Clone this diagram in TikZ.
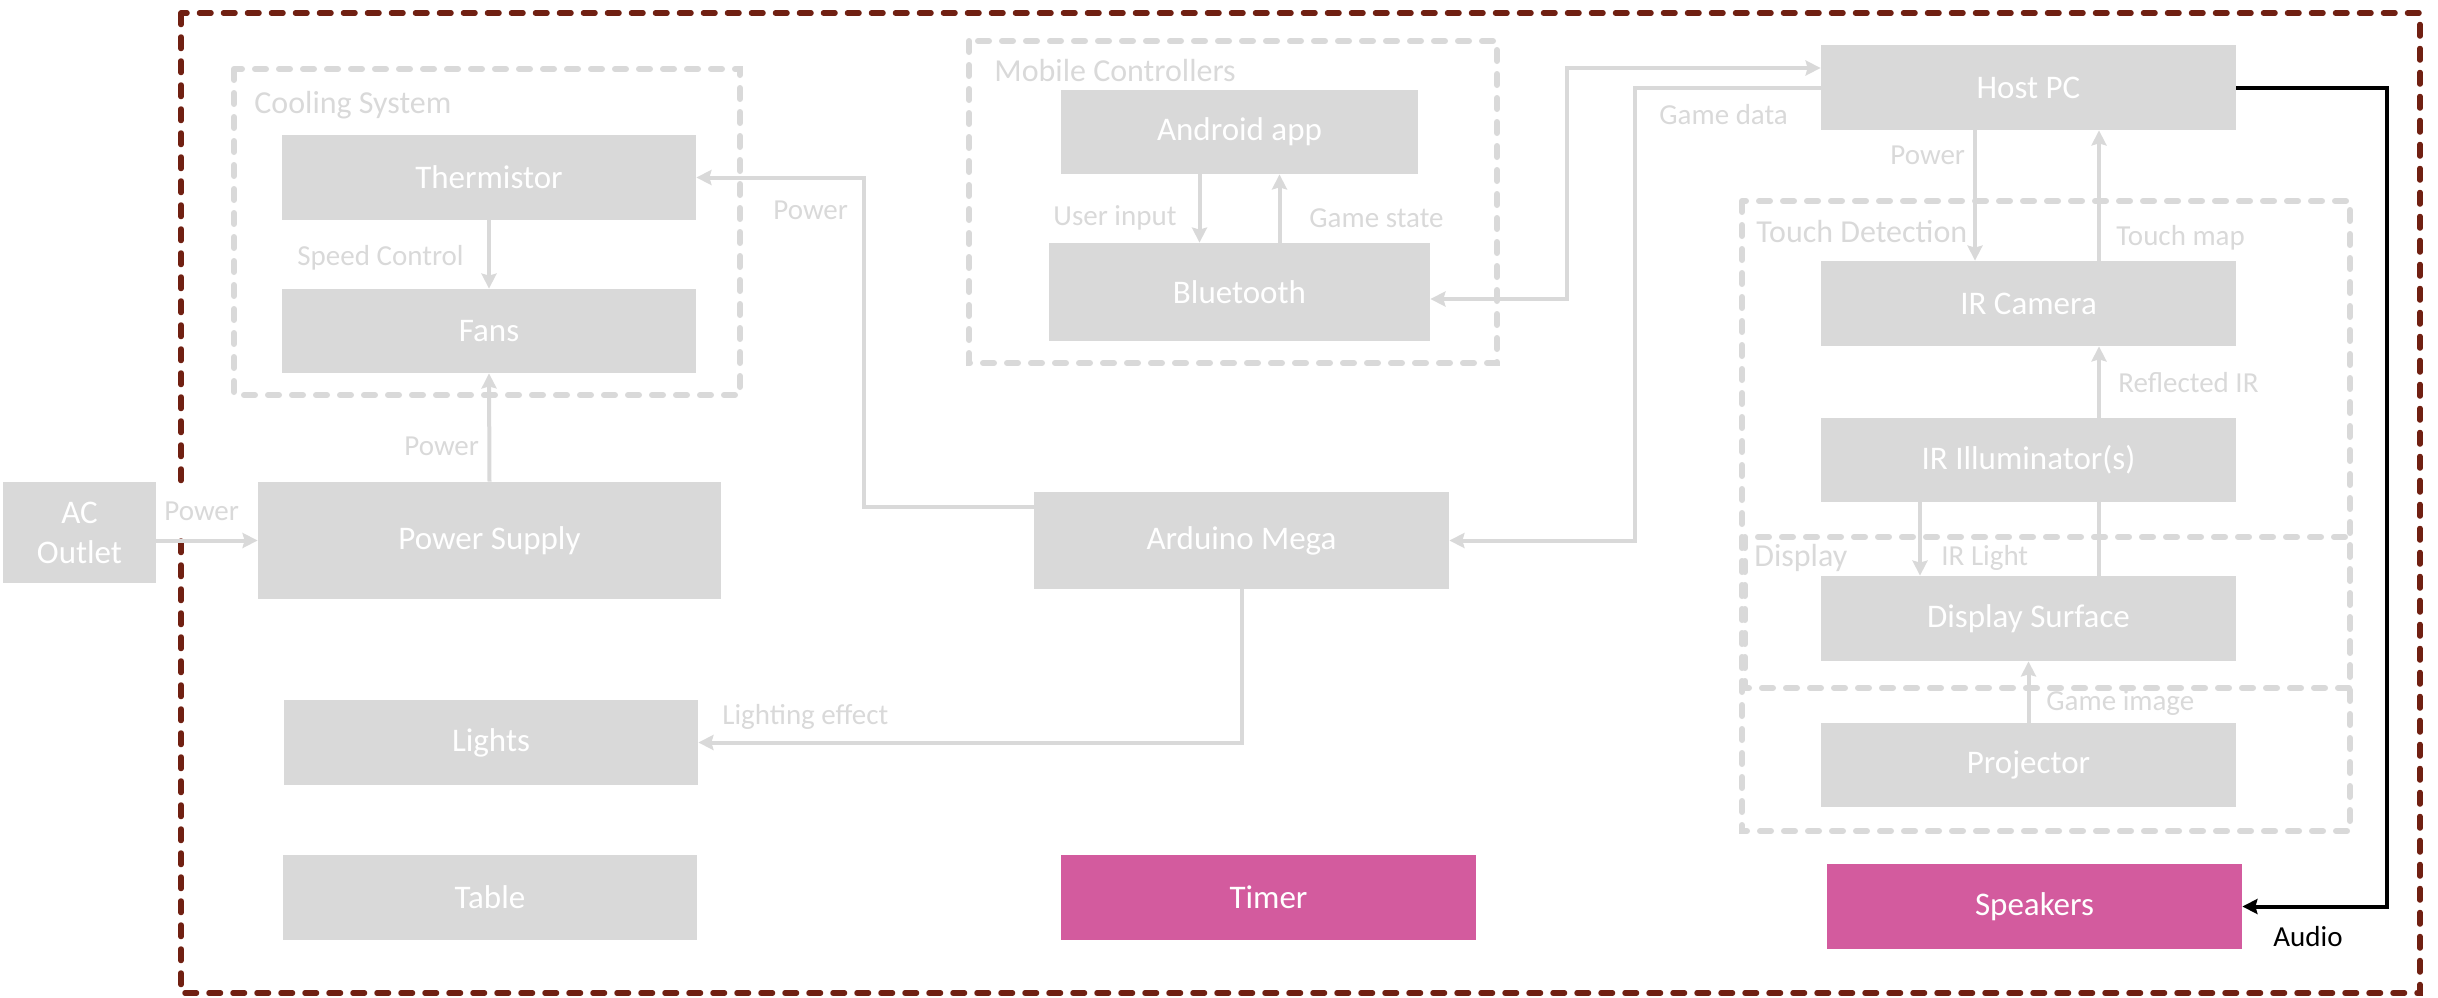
\documentclass[tikz,border=0pt]{standalone}
\usepackage{fontspec}
\setmainfont{Carlito}
\usetikzlibrary{arrows.meta,calc}
\definecolor{boxgray}{HTML}{D9D9D9}
\definecolor{framered}{HTML}{702012}
\definecolor{accent}{HTML}{D35B9E}
\begin{document}
\begin{tikzpicture}[x=0.5pt,y=-0.5pt,
  >={Stealth[length=7.5pt,width=7.5pt,inset=1pt]},
  block/.style={fill=boxgray, text=white, inner sep=0pt, align=center,
    font=\fontsize{16.5}{20}\selectfont},
  hot/.style={block, fill=accent},
  lbl/.style={text=boxgray, anchor=west, inner sep=0pt,
    font=\fontsize{14.5}{17}\selectfont},
  ttl/.style={text=boxgray, anchor=west, inner sep=0pt,
    font=\fontsize{16}{19}\selectfont},
  grp/.style={draw=boxgray, line width=3pt, dash pattern=on 5.5pt off 6.5pt, line cap=round},
  flow/.style={draw=boxgray, line width=2pt},
  audio/.style={draw=black, line width=2pt},
]
\useasboundingbox (0,0) rectangle (2438,997);

% outer system boundary
\draw[draw=framered, line width=2.75pt, dash pattern=on 5.75pt off 6.25pt, line cap=round]
  (181,13) rectangle (2420,993);

% subsystem groups
\draw[grp] (234,69) rectangle (740,395);
\draw[grp] (969,41) rectangle (1497,363);
\draw[grp] (1742,201) rectangle (2350,831);
\draw[grp] (1745,537) rectangle (2350,688);
\node[ttl] (tcool) at (254,105) {Cooling System};
\node[ttl] (tmob) at (994,71) {Mobile Controllers};
\node[ttl] (ttouch) at (1756,232) {Touch Detection};
\node[ttl] (tdisp) at (1754,558) {Display};

% blocks
\node[block, minimum width=76.5pt, minimum height=50.5pt] (ac) at (79.5,532.5) {AC\\Outlet};
\node[block, minimum width=231.5pt, minimum height=58.5pt] (psu) at (489.5,540.5) {Power Supply};
\node[block, minimum width=207pt, minimum height=42.5pt] (therm) at (489,177.5) {Thermistor};
\node[block, minimum width=207pt, minimum height=42pt] (fans) at (489,331) {Fans};
\node[block, minimum width=207pt, minimum height=42.5pt] (lights) at (491,742.5) {Lights};
\node[block, minimum width=207pt, minimum height=42.5pt] (table) at (490,897.5) {Table};
\node[block, minimum width=178.5pt, minimum height=42pt] (android) at (1239.5,132) {Android app};
\node[block, minimum width=190.5pt, minimum height=49pt] (bt) at (1239.5,292) {Bluetooth};
\node[block, minimum width=207.5pt, minimum height=48.5pt] (arduino) at (1241.5,540.5) {Arduino Mega};
\node[hot, minimum width=207.5pt, minimum height=42.5pt] (timer) at (1268.5,897.5) {Timer};
\node[block, minimum width=207.5pt, minimum height=42.5pt] (host) at (2028.5,87.5) {Host PC};
\node[block, minimum width=207.5pt, minimum height=42.5pt] (ircam) at (2028.5,303.5) {IR Camera};
\node[block, minimum width=207.5pt, minimum height=42pt] (irill) at (2028.5,460) {IR Illuminator(s)};
\node[block, minimum width=207.5pt, minimum height=42.5pt] (dsurf) at (2028.5,618.5) {Display Surface};
\node[block, minimum width=207.5pt, minimum height=42pt] (proj) at (2028.5,765) {Projector};
\node[hot, minimum width=207.5pt, minimum height=42.5pt] (speakers) at (2034.5,906.5) {Speakers};

% label of the mains input sits on a white patch over the boundary
\node[lbl, fill=white, inner xsep=1pt, inner ysep=6.5pt] (l1) at (162,511) {Power};

% routing points
\coordinate (pw) at (864,507);
\coordinate (btup) at (1567,299);
\coordinate (bttop) at (1567,68);
\coordinate (gd) at (1635,0);
\coordinate (au) at (2387,0);

% power and control paths
\draw[flow,->] (psu.west -| ac.east) -- (psu.west);
\draw[flow,->] (psu.north) -- (fans.south);
\draw[flow,->] (therm.south) -- (fans.north);
\draw[flow,->] (arduino.west |- pw) -- (pw) -- (pw |- therm.east) -- (therm.east);
\draw[flow,->] ([xshift=-20pt]android.south) -- ([xshift=-20pt]bt.north);
\draw[flow,->] ([xshift=20pt]bt.north) -- ([xshift=20pt]android.south);
\draw[flow,<->] ([yshift=-3.5pt]bt.east) -- (btup) -- (bttop) -- (bttop -| host.west);
\draw[flow,->] (host.west) -- (host.west -| gd) -- (gd |- arduino.east) -- (arduino.east);
\draw[flow,->] (arduino.south) -- (arduino.south |- lights.east) -- (lights.east);

% touch detection and display paths
\draw[flow,->] ([xshift=-26.75pt]host.south) -- ([xshift=-26.75pt]ircam.north);
\draw[flow,->] ([xshift=35.25pt]ircam.north) -- ([xshift=35.25pt]host.south);
\draw[flow,->] ([xshift=35.25pt]irill.north) -- ([xshift=35.25pt]ircam.south);
\draw[flow,->] ([xshift=-54.25pt]irill.south) -- ([xshift=-54.25pt]dsurf.north);
\draw[flow] ([xshift=35.25pt]dsurf.north) -- ([xshift=35.25pt]irill.south);
\draw[flow,->] (proj.north) -- (dsurf.south);

% audio output
\draw[audio,->] (host.east) -- (host.east -| au) -- (au |- speakers.east) -- (speakers.east);

% connector labels
\node[lbl] (l2) at (297,258) {Speed Control};
\node[lbl] (l3) at (404,446) {Power};
\node[lbl] (l4) at (773,210) {Power};
\node[lbl] (l5) at (1053,218) {User input};
\node[lbl] (l6) at (1309,218) {Game state};
\node[lbl] (l7) at (1659,115) {Game data};
\node[lbl] (l8) at (722,717) {Lighting effect};
\node[lbl] (l9) at (1890,155) {Power};
\node[lbl] (l10) at (2116,238) {Touch map};
\node[lbl] (l11) at (2118,383) {Reflected IR};
\node[lbl] (l12) at (1941,558) {IR Light};
\node[lbl] (l13) at (2046,703) {Game image};
\node[lbl, text=black] (l14) at (2273,937) {Audio};
\end{tikzpicture}
\end{document}
